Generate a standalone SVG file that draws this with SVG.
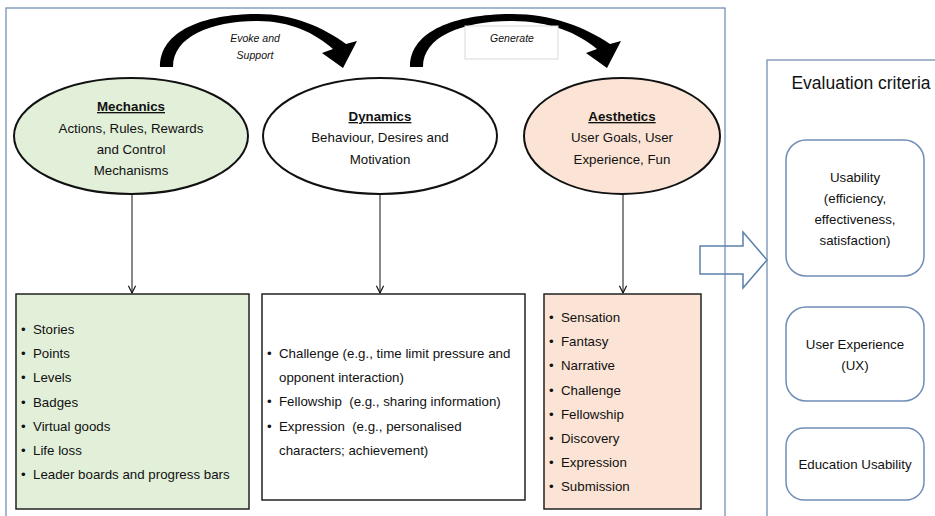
<svg xmlns="http://www.w3.org/2000/svg" width="935" height="516" viewBox="0 0 935 516">
<defs>
<style>
text{font-family:"Liberation Sans",Arial,sans-serif;fill:#111;white-space:pre;}
.t{font-size:13.3px;}
.c{text-anchor:middle;}
.b{font-weight:bold;text-decoration:underline;}
.i{font-size:10.5px;font-style:italic;text-anchor:middle;}
.ell{stroke:#111;stroke-width:2;}
.box{stroke:#222;stroke-width:1.5;}
.rb{fill:#fff;stroke:#6f8db8;stroke-width:1.5;}
.frame{fill:none;stroke:#6a88ad;stroke-width:1.2;}
.conn{stroke:#111;stroke-width:1;fill:none;}
</style>
<marker id="ah" viewBox="0 0 10 10" refX="9" refY="5" markerWidth="9" markerHeight="9" markerUnits="userSpaceOnUse" orient="auto">
<path d="M1,1 L9,5 L1,9" fill="none" stroke="#111" stroke-width="1.3"/>
</marker>
</defs>
<rect width="935" height="516" fill="#fff"/>

<g id="evoke-arrow">
<path d="M160,67 C160,30 205,14 258,14 C293,14 323,27 346,44 L357,41 L343,68 L322,53 L333,49 C315,33 290,21 258,21 C212,21 173,36 173,67 Z" fill="#000"/>
<text class="i" x="255" y="42">Evoke and</text>
<text class="i" x="255" y="59">Support</text>
</g>
<g id="generate-arrow">
<path d="M410,67 C410,30 457,14 512,14 C552,14 585,27 610,44 L621,41 L607,68 L586,53 L597,49 C578,33 550,21 512,21 C463,21 423,36 423,67 Z" fill="#000"/>
<rect x="465" y="26" width="93" height="33" fill="#fff" stroke="#d9d9d9" stroke-width="1"/>
<text class="i" x="512" y="42">Generate</text>
</g>

<g id="connectors">
<line class="conn" x1="132" y1="194" x2="132" y2="293" marker-end="url(#ah)"/>
<line class="conn" x1="380" y1="194" x2="380" y2="293" marker-end="url(#ah)"/>
<line class="conn" x1="623" y1="194" x2="623" y2="293" marker-end="url(#ah)"/>
</g>

<g id="mechanics">
<ellipse class="ell" cx="131" cy="136" rx="117" ry="58" fill="#e2efd9"/>
<text class="t c b" x="131" y="111">Mechanics</text>
<text class="t c" x="131" y="133">Actions, Rules, Rewards</text>
<text class="t c" x="131" y="154">and Control</text>
<text class="t c" x="131" y="175">Mechanisms</text>
</g>
<g id="dynamics">
<ellipse class="ell" cx="380" cy="136" rx="117" ry="58" fill="#fff"/>
<text class="t c b" x="380" y="121">Dynamics</text>
<text class="t c" x="380" y="142">Behaviour, Desires and</text>
<text class="t c" x="380" y="163.5">Motivation</text>
</g>
<g id="aesthetics">
<ellipse class="ell" cx="622" cy="136" rx="98" ry="58" fill="#fbe4d5"/>
<text class="t c b" x="622" y="121">Aesthetics</text>
<text class="t c" x="622" y="142">User Goals, User</text>
<text class="t c" x="622" y="163.5">Experience, Fun</text>
</g>

<g id="mechanics-list">
<rect class="box" x="16" y="294" width="233" height="215" fill="#e2efd9"/>
<g class="t">
<text x="21" y="334">•</text><text x="33" y="334">Stories</text>
<text x="21" y="358.2">•</text><text x="33" y="358.2">Points</text>
<text x="21" y="382.4">•</text><text x="33" y="382.4">Levels</text>
<text x="21" y="406.6">•</text><text x="33" y="406.6">Badges</text>
<text x="21" y="430.8">•</text><text x="33" y="430.8">Virtual goods</text>
<text x="21" y="455">•</text><text x="33" y="455">Life loss</text>
<text x="21" y="479.2">•</text><text x="33" y="479.2">Leader boards and progress bars</text>
</g>
</g>
<g id="dynamics-list">
<rect class="box" x="262" y="294" width="263" height="206" fill="#fff"/>
<g class="t">
<text x="267" y="358">•</text><text x="279" y="358">Challenge (e.g., time limit pressure and</text>
<text x="279" y="382.2">opponent interaction)</text>
<text x="267" y="406.4">•</text><text x="279" y="406.4">Fellowship  (e.g., sharing information)</text>
<text x="267" y="430.6">•</text><text x="279" y="430.6">Expression  (e.g., personalised</text>
<text x="279" y="454.8">characters; achievement)</text>
</g>
</g>
<g id="aesthetics-list">
<rect class="box" x="544" y="294" width="157" height="215" fill="#fbe4d5"/>
<g class="t">
<text x="549" y="322">•</text><text x="561" y="322">Sensation</text>
<text x="549" y="346.2">•</text><text x="561" y="346.2">Fantasy</text>
<text x="549" y="370.4">•</text><text x="561" y="370.4">Narrative</text>
<text x="549" y="394.6">•</text><text x="561" y="394.6">Challenge</text>
<text x="549" y="418.8">•</text><text x="561" y="418.8">Fellowship</text>
<text x="549" y="443">•</text><text x="561" y="443">Discovery</text>
<text x="549" y="467.2">•</text><text x="561" y="467.2">Expression</text>
<text x="549" y="491.4">•</text><text x="561" y="491.4">Submission</text>
</g>
</g>

<g id="block-arrow">
<path d="M700,246 L743,246 L743,232 L767,260 L743,288 L743,274 L700,274 Z" fill="#fff" stroke="#5b80ad" stroke-width="1.5"/>
</g>

<g id="mda-frame">
<rect class="frame" x="6" y="8" width="719" height="520"/>
</g>

<g id="evaluation">
<rect class="frame" x="767" y="60" width="200" height="470"/>
<text x="861" y="89" class="c" style="font-size:17.5px">Evaluation criteria</text>
</g>
<g id="usability">
<rect class="rb" x="786" y="140" width="138" height="136" rx="20"/>
<text class="t c" x="855" y="182">Usability</text>
<text class="t c" x="855" y="203">(efficiency,</text>
<text class="t c" x="855" y="224">effectiveness,</text>
<text class="t c" x="855" y="245">satisfaction)</text>
</g>
<g id="ux">
<rect class="rb" x="786" y="307" width="138" height="94" rx="20"/>
<text class="t c" x="855" y="349">User Experience</text>
<text class="t c" x="855" y="370">(UX)</text>
</g>
<g id="education">
<rect class="rb" x="786" y="428" width="138" height="72" rx="18"/>
<text class="t c" x="855" y="469">Education Usability</text>
</g>
</svg>
